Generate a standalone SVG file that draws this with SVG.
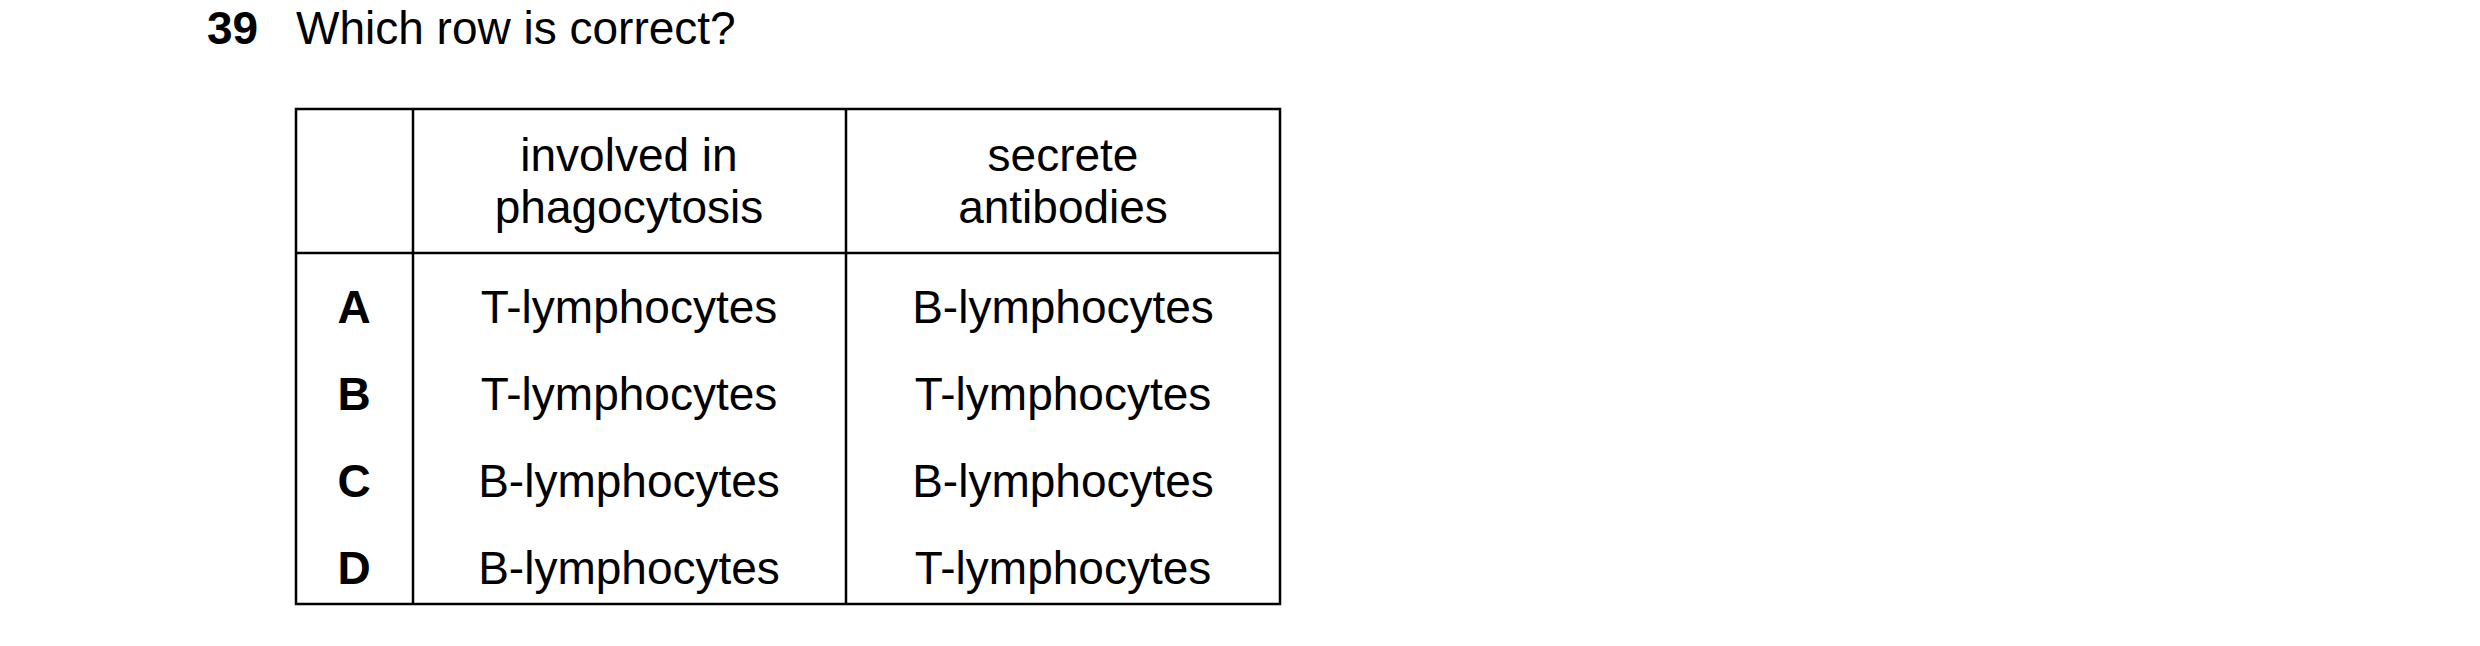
<svg xmlns="http://www.w3.org/2000/svg" width="2480" height="646" viewBox="0 0 2480 646">
<style>
text{font-family:"Liberation Sans",Arial,sans-serif;font-size:46px;fill:#000}
.b{font-weight:bold}
.c{text-anchor:middle}
.t{stroke:#000;stroke-width:2.5;fill:none}
</style>
<rect width="2480" height="646" fill="#fff"/>
<text class="b" x="207" y="44">39</text>
<text x="296" y="44">Which row is correct?</text>
<g id="table">
<rect class="t" x="296" y="109" width="984" height="495"/>
<line class="t" x1="413" y1="109" x2="413" y2="604"/>
<line class="t" x1="846" y1="109" x2="846" y2="604"/>
<line class="t" x1="296" y1="253" x2="1280" y2="253"/>
</g>
<g id="header">
<text class="c" x="629" y="171">involved in</text>
<text class="c" x="629" y="223">phagocytosis</text>
<text class="c" x="1063" y="171">secrete</text>
<text class="c" x="1063" y="223">antibodies</text>
</g>
<g id="rows">
<text class="b c" x="354" y="323">A</text>
<text class="c" x="629" y="323">T-lymphocytes</text>
<text class="c" x="1063" y="323">B-lymphocytes</text>
<text class="b c" x="354" y="410">B</text>
<text class="c" x="629" y="410">T-lymphocytes</text>
<text class="c" x="1063" y="410">T-lymphocytes</text>
<text class="b c" x="354" y="497">C</text>
<text class="c" x="629" y="497">B-lymphocytes</text>
<text class="c" x="1063" y="497">B-lymphocytes</text>
<text class="b c" x="354" y="584">D</text>
<text class="c" x="629" y="584">B-lymphocytes</text>
<text class="c" x="1063" y="584">T-lymphocytes</text>
</g>
</svg>
